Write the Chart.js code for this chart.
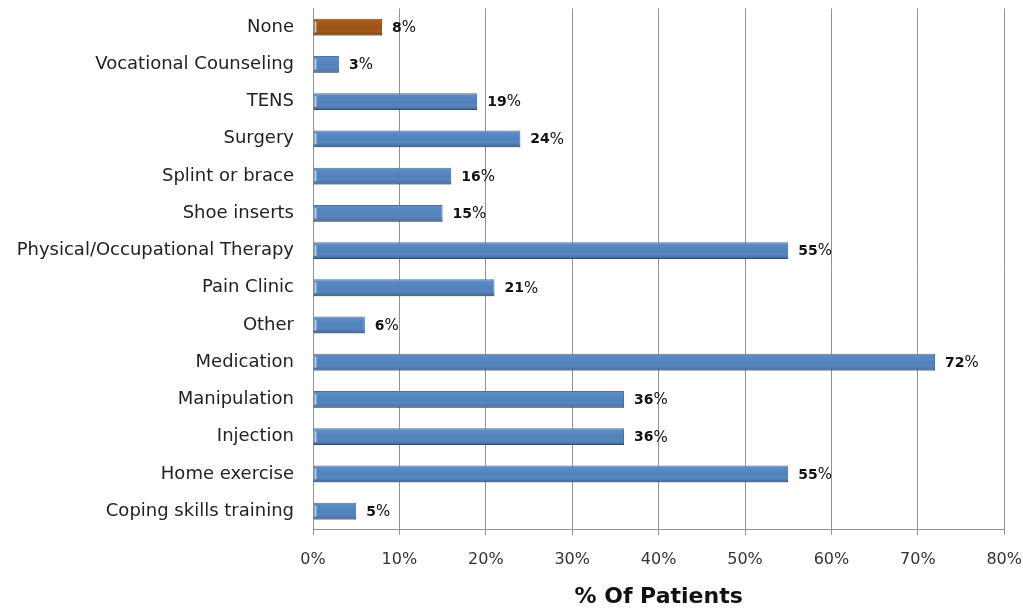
<!DOCTYPE html>
<html>
<head>
<meta charset="utf-8">
<script src="https://cdn.jsdelivr.net/npm/chart.js@4/dist/chart.umd.min.js"></script>
<style>
  html, body { margin: 0; padding: 0; background: #fff; }
  #wrap { width: 1023px; height: 609px; }
</style>
</head>
<body>
<div id="wrap"><canvas id="chart"></canvas></div>
<script>
// treatments, top to bottom as in the picture
const categories = [
  "None", "Vocational Counseling", "TENS", "Surgery", "Splint or brace",
  "Shoe inserts", "Physical/Occupational Therapy", "Pain Clinic", "Other",
  "Medication", "Manipulation", "Injection", "Home exercise", "Coping skills training"
];
const percents = [8, 3, 19, 24, 16, 15, 55, 21, 6, 72, 36, 36, 55, 5];
const tickValues = [0, 10, 20, 30, 40, 50, 60, 70, 80];

const blue = "#4F81BD";
const brown = "#A0500F";
const barColors = categories.map(c => c === "None" ? brown : blue);
const edgeColors = categories.map(c => c === "None" ? "#7A3A08" : "#3B6494");

const fontFam = "'DejaVu Sans', sans-serif";

// soft 3d shading on top of each bar, then value labels
const barFinish = {
  id: "barFinish",
  afterDatasetsDraw(chart) {
    const ctx = chart.ctx;
    const meta = chart.getDatasetMeta(0);
    ctx.save();
    meta.data.forEach((bar, i) => {
      const h = bar.height, top = bar.y - h / 2, left = bar.base;
      const w = bar.x - left;
      const g = ctx.createLinearGradient(0, top, 0, top + h);
      g.addColorStop(0, "rgba(255,255,255,0.10)");
      g.addColorStop(0.55, "rgba(255,255,255,0)");
      g.addColorStop(1, "rgba(0,0,0,0.28)");
      ctx.fillStyle = g;
      ctx.fillRect(left, top, w, h);
      ctx.fillStyle = "rgba(200,225,255,0.8)";
      ctx.fillRect(left + 1, top + 3, 2, h - 6);
    });
    ctx.fillStyle = "#111";
    ctx.textBaseline = "middle";
    meta.data.forEach((bar, i) => {
      const num = String(percents[i]);
      let x = bar.x + 10;
      ctx.font = "bold 14px " + fontFam;
      ctx.fillText(num, x, bar.y + 1);
      x += ctx.measureText(num).width;
      ctx.font = "15px " + fontFam;
      ctx.fillText("%", x, bar.y + 1);
    });
    ctx.restore();
  }
};

new Chart(document.getElementById("chart"), {
  type: "bar",
  data: {
    labels: categories,
    datasets: [{
      data: percents,
      backgroundColor: barColors,
      borderColor: edgeColors,
      borderWidth: 1,
      barPercentage: 0.45,
      categoryPercentage: 1
    }]
  },
  options: {
    indexAxis: "y",
    responsive: true,
    maintainAspectRatio: false,
    animation: false,
    layout: { padding: 0 },
    plugins: {
      legend: { display: false },
      tooltip: { enabled: false }
    },
    scales: {
      x: {
        min: 0,
        max: 80,
        afterBuildTicks(scale) {
          scale.ticks = tickValues.map(v => ({ value: v }));
        },
        grid: {
          color: "#939393",
          lineWidth: 1,
          drawTicks: true,
          tickLength: 5
        },
        border: { display: true, color: "#939393" },
        ticks: {
          padding: 1,
          color: "#333",
          font: { family: fontFam, size: 16, lineHeight: "48px" },
          callback: v => v + "%"
        },
        title: {
          display: true,
          text: "% Of Patients",
          color: "#111",
          font: { family: fontFam, size: 22, weight: "bold", lineHeight: 1.1 },
          padding: { top: 0, bottom: 0 }
        }
      },
      y: {
        afterFit(scale) { scale.width = 313; },
        grid: {
          display: true,
          drawOnChartArea: false,
          drawTicks: true,
          tickLength: 19,
          tickColor: "rgba(0,0,0,0)"
        },
        border: { display: true, color: "#939393" },
        ticks: {
          padding: 0,
          color: "#222",
          font: { family: fontFam, size: 18, lineHeight: 0.94 }
        }
      }
    }
  },
  plugins: [barFinish]
});
</script>
</body>
</html>
